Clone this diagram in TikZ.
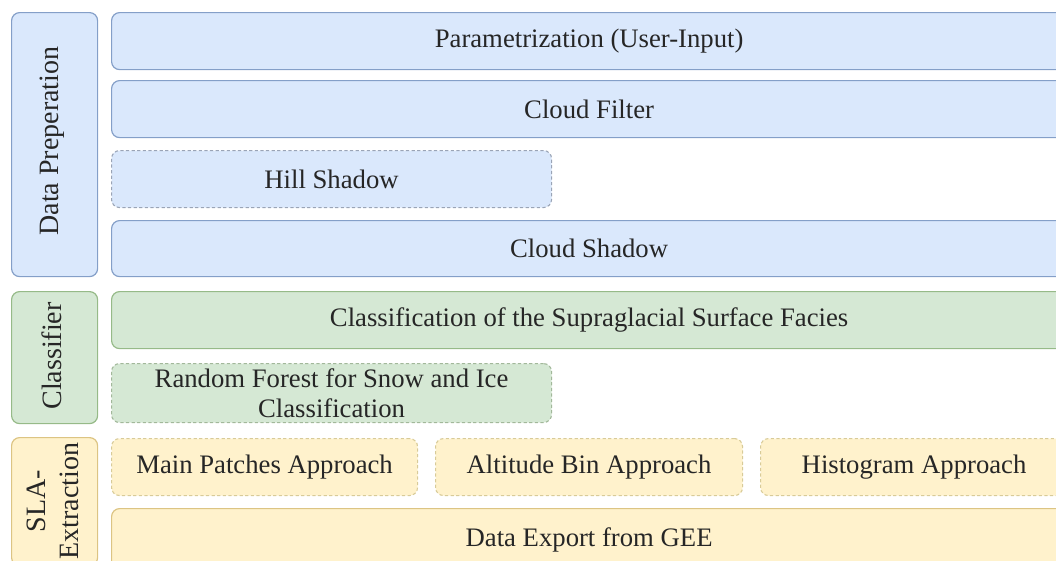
\documentclass[tikz,border=0pt]{standalone}
\usepackage{fontspec}
\setmainfont{Liberation Serif}
\begin{document}
\begin{tikzpicture}[x=1pt,y=-1pt,
  txt/.style={text=textc,font=\fontsize{26.7}{30}\selectfont,align=center,inner sep=0pt},
  box/.style={rounded corners=8pt,line width=1.2pt,anchor=north west,inner sep=0pt,txt},
  bluebox/.style={box,draw=bluedraw,fill=bluefill},
  greenbox/.style={box,draw=greendraw,fill=greenfill},
  yellowbox/.style={box,draw=yellowdraw,fill=yellowfill},
  dashbox/.style={dash pattern=on 3.2pt off 2.4pt,line width=1.1pt},
  vlabel/.style={txt,font=\fontsize{28}{33}\selectfont,rotate=90}
]
\definecolor{textc}{HTML}{262626}
\definecolor{bluefill}{HTML}{DAE8FC}
\definecolor{bluedraw}{HTML}{849FC8}
\definecolor{bluedash}{HTML}{9AA4B6}
\definecolor{greenfill}{HTML}{D5E8D4}
\definecolor{greendraw}{HTML}{96BA88}
\definecolor{greendash}{HTML}{A2B89A}
\definecolor{yellowfill}{HTML}{FFF2CC}
\definecolor{yellowdraw}{HTML}{DCC483}
\definecolor{yellowdash}{HTML}{D8CB98}
\useasboundingbox (0,0) rectangle (1056,560);
\clip (0,0) rectangle (1056,560);
% left column
\node[bluebox,minimum width=86pt,minimum height=264pt] (dp) at (11,12) {};
\node[vlabel] (dpt) at (52,141) {Data Preperation};
\node[greenbox,minimum width=86pt,minimum height=132pt] (cl) at (11,291) {};
\node[vlabel] (clt) at (52,356) {Classifier};
\node[yellowbox,minimum width=86pt,minimum height=128pt] (sla) at (11,437) {};
\node[vlabel] (slat) at (53,501) {SLA-\\Extraction};
% data preparation
\node[bluebox,minimum width=955pt,minimum height=57pt] (param) at (111,12) {Parametrization (User-Input)};
\node[bluebox,minimum width=955pt,minimum height=57pt] (cf) at (111,80) {Cloud Filter};
\node[bluebox,draw=bluedash,dashbox,minimum width=440pt,minimum height=57pt] (hs) at (111,150) {Hill Shadow};
\node[bluebox,minimum width=955pt,minimum height=56pt] (cs) at (111,220) {Cloud Shadow};
% classifier
\node[greenbox,minimum width=955pt,minimum height=57pt] (csf) at (111,291) {Classification of the Supraglacial Surface Facies};
\node[greenbox,draw=greendash,dashbox,minimum width=440pt,minimum height=59pt] (rf) at (111,363) {Random Forest for Snow and Ice\\Classification};
% SLA extraction
\node[yellowbox,draw=yellowdash,dashbox,minimum width=306pt,minimum height=57pt] (mp) at (111,438) {Main Patches Approach};
\node[yellowbox,draw=yellowdash,dashbox,minimum width=307pt,minimum height=57pt] (ab) at (435,438) {Altitude Bin Approach};
\node[yellowbox,draw=yellowdash,dashbox,minimum width=307pt,minimum height=57pt] (hb) at (760,438) {Histogram Approach};
\node[yellowbox,minimum width=955pt,minimum height=62pt] (de) at (111,508) {Data Export from GEE};
\end{tikzpicture}
\end{document}
